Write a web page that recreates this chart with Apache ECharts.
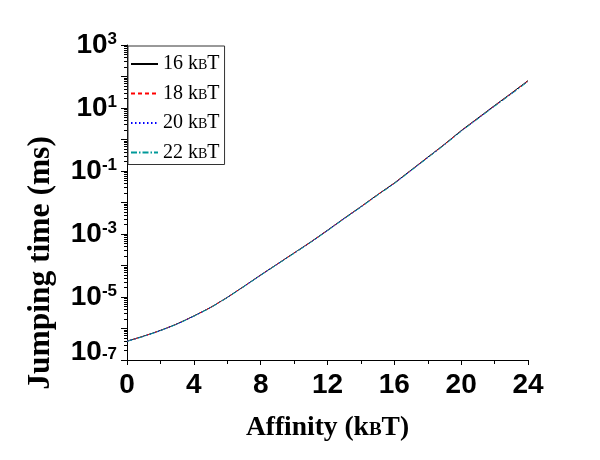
<!DOCTYPE html>
<html>
<head>
<meta charset="utf-8">
<script src="https://cdn.jsdelivr.net/npm/echarts@6/dist/echarts.min.js"></script>
<style>html,body{margin:0;padding:0;background:#fff;}#c{width:600px;height:460px;}</style>
</head>
<body>
<div id="c"></div>
<script>
// ---- data ----
var affinity = [0,1,2,3,4,5,6,7,8,9,10,11,12,13,14,15,16,17,18,19,20,21,22,23,24];
var barriers = [16, 18, 20, 22];
var t16 = [3.98e-7,5.75e-7,8.71e-7,1.41e-6,2.51e-6,4.68e-6,9.77e-6,2.19e-5,5.01e-5,1.12e-4,2.51e-4,5.62e-4,1.32e-3,3.16e-3,7.41e-3,1.78e-2,4.17e-2,0.107,0.275,0.708,1.91,4.79,12.0,29.5,74.1];
var t18 = [3.95e-7,5.70e-7,8.65e-7,1.40e-6,2.49e-6,4.64e-6,9.68e-6,2.17e-5,4.96e-5,1.11e-4,2.48e-4,5.55e-4,1.30e-3,3.12e-3,7.31e-3,1.75e-2,4.10e-2,0.105,0.270,0.695,1.87,4.69,11.7,28.8,72.2];
var t20 = [3.93e-7,5.66e-7,8.60e-7,1.39e-6,2.47e-6,4.60e-6,9.60e-6,2.15e-5,4.91e-5,1.10e-4,2.45e-4,5.49e-4,1.29e-3,3.08e-3,7.22e-3,1.73e-2,4.04e-2,0.104,0.266,0.684,1.84,4.60,11.5,28.2,70.5];
var t22 = [3.90e-7,5.62e-7,8.55e-7,1.38e-6,2.45e-6,4.56e-6,9.52e-6,2.13e-5,4.86e-5,1.09e-4,2.42e-4,5.43e-4,1.27e-3,3.04e-3,7.13e-3,1.70e-2,3.98e-2,0.102,0.262,0.673,1.81,4.52,11.3,27.6,68.9];
var xTicks = [0,4,8,12,16,20,24];
var yLabelExponents = [3,1,-1,-3,-5,-7];
var decades = [-7,-6,-5,-4,-3,-2,-1,0,1,2];
var minorMultipliers = [2,3,4,5,6,7,8,9];

var seriesValues = [t16, t18, t20, t22];
var colors = ['#000000', '#ff0000', '#0000ff', '#009999'];
var dashes = ['solid', [4,3], [1.5,2.5], [6,2,1.5,2]];

function pairs(vals){ return affinity.map(function(a,i){ return [a, vals[i]]; }); }

// minor (log-spaced) tick positions for the overlay tick axis, in decades
var minorTickPos = [];
decades.forEach(function(d){ minorMultipliers.forEach(function(m){ minorTickPos.push(d + Math.log10(m)); }); });

var series = barriers.map(function(b, i){
  return {
    name: b + ' kBT',
    type: 'line',
    xAxisIndex: 0, yAxisIndex: 0,
    data: pairs(seriesValues[i]),
    showSymbol: false,
    symbol: 'none',
    symbolSize: 0,
    smooth: 0.2,
    lineStyle: { color: colors[i], width: 1, type: dashes[i] },
    itemStyle: { color: colors[i] },
    z: 2 + i
  };
});

var chart = echarts.init(document.getElementById('c'), null, {renderer: 'canvas'});
chart.setOption({
  animation: false,
  backgroundColor: '#fff',
  grid: [
    { left: 127, right: 72, top: 45, bottom: 100, containLabel: false },
    { left: 127, right: 72, top: 45, bottom: 100, containLabel: false }
  ],
  xAxis: [{
    gridIndex: 0,
    type: 'value', min: 0, max: 24, interval: 4,
    name: '{n|Affinity (k}{s|B}{n|T)}',
    nameLocation: 'middle', nameGap: 53,
    nameTextStyle: {
      rich: {
        n: { fontFamily: 'Liberation Serif', fontWeight: 'bold', fontSize: 27.5, color: '#000', lineHeight: 30 },
        s: { fontFamily: 'Liberation Serif', fontWeight: 'bold', fontSize: 19, color: '#000', lineHeight: 26, padding: [4,0,0,0] }
      }
    },
    axisLine: { show: true, lineStyle: { color: '#000', width: 1 } },
    axisTick: { show: true, inside: false, length: 5, lineStyle: { color: '#000' } },
    minorTick: { show: true, splitNumber: 2, length: 4, lineStyle: { color: '#000' } },
    splitLine: { show: false },
    axisLabel: {
      margin: 11,
      fontFamily: 'Liberation Sans', fontWeight: 'bold', fontSize: 28, color: '#000',
      formatter: function(v){ return xTicks.indexOf(v) >= 0 ? String(v) : ''; }
    }
  }, {
    gridIndex: 1, type: 'value', min: 0, max: 1, show: false
  }],
  yAxis: [{
    gridIndex: 0,
    type: 'log', logBase: 10, min: 1e-7, max: 1e3, interval: 1,
    axisLine: { show: true, lineStyle: { color: '#000', width: 1 } },
    axisTick: { show: true, inside: false, length: 6, lineStyle: { color: '#000' } },
    minorTick: { show: false },
    splitLine: { show: false },
    axisLabel: {
      margin: 10,
      formatter: function(v){
        var e = Math.round(Math.log10(v));
        if (yLabelExponents.indexOf(e) < 0) return '';
        if (e === -7) return '{b7|10}{s|-7}';
        return '{b|10}{s|' + (e < 0 ? '-' + (-e) : e) + '}';
      },
      rich: {
        b: { fontFamily: 'Liberation Sans', fontWeight: 'bold', fontSize: 28, lineHeight: 28, color: '#000', padding: [4,0,4,0] },
        b7: { fontFamily: 'Liberation Sans', fontWeight: 'bold', fontSize: 28, lineHeight: 28, color: '#000', padding: [4,0,20,0] },
        s: { fontFamily: 'Liberation Sans', fontWeight: 'bold', fontSize: 17, lineHeight: 17, color: '#000', verticalAlign: 'top' }
      }
    }
  }, {
    gridIndex: 1,
    type: 'value', min: -7, max: 3,
    axisLine: { show: false },
    axisLabel: { show: false },
    splitLine: { show: false },
    axisTick: { show: true, inside: false, length: 3, customValues: minorTickPos, lineStyle: { color: '#000' } }
  }],
  legend: {
    orient: 'vertical',
    left: 128, top: 46,
    padding: [8, 5, 2, 2],
    itemGap: 9.5,
    itemWidth: 27, itemHeight: 14,
    borderColor: '#333', borderWidth: 1,
    backgroundColor: '#fff',
    itemStyle: { opacity: 0 },
    data: series.map(function(s){ return s.name; }),
    formatter: function(name){ return '{n|' + name.replace(' kBT', '') + ' k}{s|B}{n|T}'; },
    textStyle: {
      rich: {
        n: { fontFamily: 'Liberation Serif', fontSize: 20, color: '#000', lineHeight: 26 },
        s: { fontFamily: 'Liberation Serif', fontSize: 14, color: '#000', lineHeight: 23, padding: [3,0,0,0] }
      }
    }
  },
  graphic: [{
    type: 'text',
    x: 41, y: 263, rotation: Math.PI / 2,
    style: {
      text: 'Jumping time (ms)',
      fontFamily: 'Liberation Serif', fontWeight: 'bold', fontSize: 31.5,
      fill: '#000',
      align: 'center', verticalAlign: 'middle',
      textAlign: 'center', textVerticalAlign: 'middle'
    }
  }],
  series: series
});
</script>
</body>
</html>
